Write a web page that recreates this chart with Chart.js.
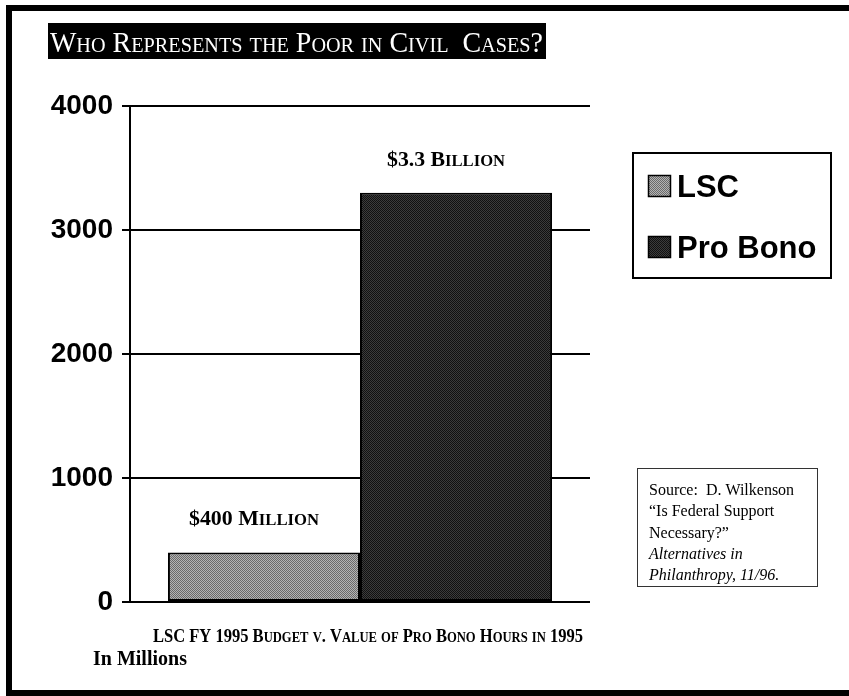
<!DOCTYPE html>
<html>
<head>
<meta charset="utf-8">
<script src="https://cdn.jsdelivr.net/npm/chart.js@4"></script>
<style>
  body { margin: 0; background: #fff; }
  #wrap { width: 849px; height: 696px; }
</style>
</head>
<body>
<div id="wrap"><canvas id="barChart" width="849" height="696"></canvas></div>
<script>
/* global Chart*/

// Datos del gráfico
const categories = ['1995'];
const seriesNames = ['LSC', 'Pro Bono'];
const lscValues = [400];
const proBonoValues = [3300];
const barLabels = ['$400 Million', '$3.3 Billion'];
const yTicks = [0, 1000, 2000, 3000, 4000];

const titleText = 'Who Represents the Poor in Civil  Cases?';
const footText = 'LSC FY 1995 Budget v. Value of Pro Bono Hours in 1995';
const unitText = 'In Millions';
const sourceLines = ['Source:  D. Wilkenson', '\u201CIs Federal Support', 'Necessary?\u201D', 'Alternatives in', 'Philanthropy, 11/96.'];

const SANS = "'Liberation Sans', Arial, sans-serif";
const SERIF = "'Liberation Serif', 'Times New Roman', serif";

// Tramas de puntos como en la diapositiva original
function makePattern(c1, c2) {
    const p = document.createElement('canvas');
    p.width = 2; p.height = 2;
    const g = p.getContext('2d');
    g.fillStyle = c1; g.fillRect(0, 0, 2, 2);
    g.fillStyle = c2; g.fillRect(0, 0, 1, 1); g.fillRect(1, 1, 1, 1);
    return g.createPattern(p, 'repeat');
}
const lscFill = makePattern('#b4b4b4', '#6a6a6a');
const proBonoFill = makePattern('#3c3c3c', '#111111');

// Texto en versalitas: minúsculas se dibujan como mayúsculas pequeñas
function smallCaps(ctx, text, x, y, big, small, weight, family, align, fitW) {
    const parts = [];
    let w = 0;
    for (const ch of text) {
        const isLow = ch !== ch.toUpperCase();
        const size = isLow ? small : big;
        ctx.font = weight + ' ' + size + 'px ' + family;
        const t = ch.toUpperCase();
        const cw = ctx.measureText(t).width;
        parts.push({ t, size, cw });
        w += cw;
    }
    const sc = fitW ? fitW / w : 1;
    let start = x;
    if (align === 'center') start = x - w * sc / 2;
    ctx.save();
    ctx.translate(start, y);
    ctx.scale(sc, 1);
    ctx.textAlign = 'left';
    ctx.textBaseline = 'alphabetic';
    let cx = 0;
    for (const p of parts) {
        ctx.font = weight + ' ' + p.size + 'px ' + family;
        ctx.fillText(p.t, cx, 0);
        cx += p.cw;
    }
    ctx.restore();
}

const decorPlugin = {
    id: 'decor',
    afterDraw(chart) {
        const ctx = chart.ctx;
        ctx.save();
        // marco exterior
        ctx.fillStyle = '#000';
        ctx.fillRect(6, 5, 843, 6);
        ctx.fillRect(6, 5, 6, 691);
        ctx.fillRect(6, 690, 843, 6);

        // título
        ctx.fillRect(48, 23, 498, 36);
        ctx.fillStyle = '#fff';
        smallCaps(ctx, titleText, 50, 52, 29, 21, 'normal', SERIF, 'left', 493);

        // etiquetas de las barras
        ctx.fillStyle = '#000';
        chart.data.datasets.forEach((ds, i) => {
            const bar = chart.getDatasetMeta(i).data[0];
            smallCaps(ctx, barLabels[i], bar.x - 10, bar.y - 27, 21, 16, 'bold', SERIF, 'center', i === 0 ? 130 : 118);
        });

        // leyenda
        ctx.lineWidth = 2;
        ctx.strokeStyle = '#000';
        ctx.fillStyle = '#fff';
        ctx.fillRect(633, 153, 198, 125);
        ctx.strokeRect(633, 153, 198, 125);
        const legendY = [175, 236];
        chart.data.datasets.forEach((ds, i) => {
            ctx.fillStyle = ds.backgroundColor;
            ctx.fillRect(648, legendY[i], 23, 22);
            ctx.lineWidth = 1.5;
            ctx.strokeRect(648.5, legendY[i] + 0.5, 22, 21);
            ctx.fillStyle = '#000';
            ctx.font = 'bold 31px ' + SANS;
            ctx.textAlign = 'left';
            ctx.textBaseline = 'alphabetic';
            ctx.fillText(ds.label, 677, legendY[i] + 22);
        });

        // cuadro de la fuente
        ctx.fillStyle = '#fff';
        ctx.fillRect(637, 468, 181, 119);
        ctx.lineWidth = 1;
        ctx.strokeStyle = '#333';
        ctx.strokeRect(637.5, 468.5, 180, 118);
        ctx.fillStyle = '#000';
        sourceLines.forEach((line, i) => {
            ctx.font = (i >= 3 ? 'italic ' : '') + '16px ' + SERIF;
            ctx.fillText(line, 649, 495 + i * 21.3);
        });

        // pie del gráfico
        smallCaps(ctx, footText, 153, 642, 19, 14.5, 'bold', SERIF, 'left', 430);
        ctx.font = 'bold 20px ' + SERIF;
        ctx.fillText(unitText, 93, 665);
        ctx.restore();
    }
};

const ctx = document.getElementById('barChart').getContext('2d');
const myChart = new Chart(ctx, {
    type: 'bar',
    data: {
        labels: categories,
        datasets: [{
            label: seriesNames[0],
            data: lscValues,
            backgroundColor: lscFill
        }, {
            label: seriesNames[1],
            data: proBonoValues,
            backgroundColor: proBonoFill
        }]
    },
    options: {
        responsive: false,
        animation: false,
        devicePixelRatio: 1,
        layout: { padding: { top: 106, right: 259, bottom: 94, left: 0 } },
        datasets: {
            bar: {
                borderColor: '#000',
                borderWidth: 2,
                borderSkipped: false,
                barPercentage: 1,
                categoryPercentage: 0.835
            }
        },
        scales: {
            x: { display: false },
            y: {
                min: yTicks[0],
                max: yTicks[yTicks.length - 1],
                afterFit(scale) { scale.width = 130; },
                afterBuildTicks(scale) { scale.ticks = yTicks.map(v => ({ value: v })); },
                grid: { color: '#000', lineWidth: 2, tickLength: 8 },
                border: { display: true, color: '#000', width: 2 },
                ticks: {
                    color: '#000',
                    padding: 9,
                    callback: v => String(v),
                    font: { family: SANS, size: 28, weight: 'bold' }
                }
            }
        },
        plugins: {
            legend: { display: false },
            tooltip: { enabled: false },
            title: { display: false }
        }
    },
    plugins: [decorPlugin]
});
</script>
</body>
</html>
